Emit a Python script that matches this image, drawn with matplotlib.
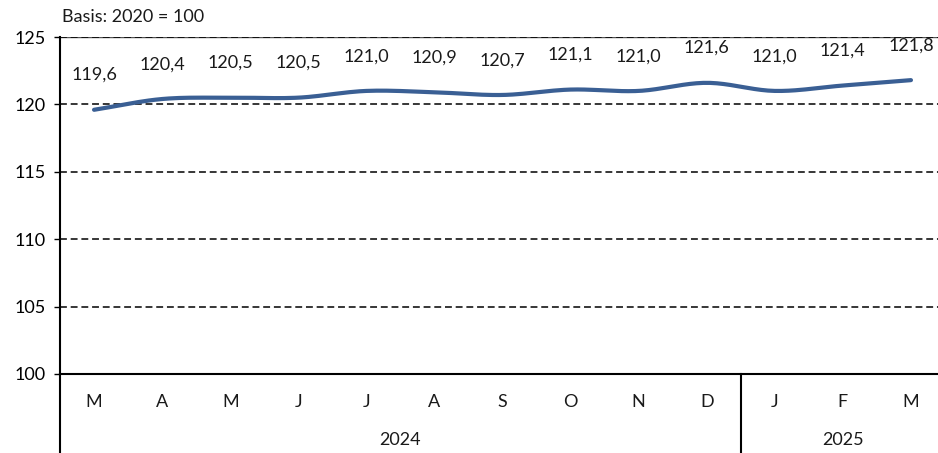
import matplotlib
matplotlib.use("Agg")
import matplotlib.pyplot as plt
import matplotlib.transforms as mtransforms
import numpy as np

plt.rcParams['font.family'] = ['Lato', 'DejaVu Sans']

# data
months = ['M', 'A', 'M', 'J', 'J', 'A', 'S', 'O', 'N', 'D', 'J', 'F', 'M']
values = [119.6, 120.4, 120.5, 120.5, 121.0, 120.9, 120.7, 121.1, 121.0, 121.6, 121.0, 121.4, 121.8]
years = ['2024', '2025']
year_counts = [10, 3]
line_color = '#3A5F94'


def smooth(x, y, steps=20):
    # catmull-rom curve through the points (like a "smoothed line" in office charts)
    x = np.asarray(x, float)
    y = np.asarray(y, float)
    px = np.concatenate([[2 * x[0] - x[1]], x, [2 * x[-1] - x[-2]]])
    py = np.concatenate([[2 * y[0] - y[1]], y, [2 * y[-1] - y[-2]]])
    xs, ys = [], []
    t = np.linspace(0, 1, steps, endpoint=False)
    for i in range(1, len(px) - 2):
        for p, out in ((px, xs), (py, ys)):
            p0, p1, p2, p3 = p[i - 1], p[i], p[i + 1], p[i + 2]
            out.extend(0.5 * ((2 * p1) + (-p0 + p2) * t
                              + (2 * p0 - 5 * p1 + 4 * p2 - p3) * t ** 2
                              + (-p0 + 3 * p1 - 3 * p2 + p3) * t ** 3))
    xs.append(x[-1])
    ys.append(y[-1])
    return np.array(xs), np.array(ys)


fig = plt.figure(figsize=(9.38, 4.53), dpi=100)
ax = fig.add_axes([60 / 938, 79 / 453, 885 / 938, 337 / 453])

x = np.arange(len(values))
for g in [105, 110, 115, 120, 125]:
    ax.axhline(g, color='black', lw=1.1, ls=(0, (4.5, 2.5)), zorder=1)
ax.axhline(125, color='#555555', lw=1.0, zorder=0.9)

sx, sy = smooth(x, values)
ax.plot(sx, sy, color=line_color, lw=3.0, solid_capstyle='round', zorder=3)

for xi, v in zip(x, values):
    ax.annotate(f'{v:.1f}'.replace('.', ','), (xi, v), xytext=(0, 25), textcoords='offset points',
                ha='center', va='center', fontsize=13, color='#1a1a1a')

ax.set_xlim(-0.5, len(values) - 0.5)
ax.set_ylim(100, 125)
ax.set_yticks([100, 105, 110, 115, 120, 125])
ax.tick_params(axis='y', length=4, width=1, labelsize=13, pad=6)
ax.set_xticks([])
for s in ['top', 'right']:
    ax.spines[s].set_visible(False)
ax.spines['left'].set_linewidth(1.5)
ax.spines['bottom'].set_linewidth(1.5)

# category axis below the plot
trans = mtransforms.blended_transform_factory(ax.transData, ax.transAxes)
bottom = -79 / 337
for xi, m in zip(x, months):
    ax.text(xi, -28 / 337, m, transform=trans, ha='center', va='center', fontsize=13, color='#1a1a1a')
start = 0
for yr, n in zip(years, year_counts):
    center = start + (n - 1) / 2
    ax.text(center, -66 / 337, yr, transform=trans, ha='center', va='center', fontsize=13, color='#1a1a1a')
    start += n
    if start < len(values):
        ax.plot([start - 0.5, start - 0.5], [0, bottom], transform=trans, color='black', lw=1.5, clip_on=False)
ax.plot([-0.5, -0.5], [0, bottom], transform=trans, color='black', lw=1.5, clip_on=False)

fig.text(62 / 938, 1 - 17 / 453, 'Basis: 2020 = 100', ha='left', va='center', fontsize=13, color='#1a1a1a')

fig.savefig('out.png', dpi=100)
